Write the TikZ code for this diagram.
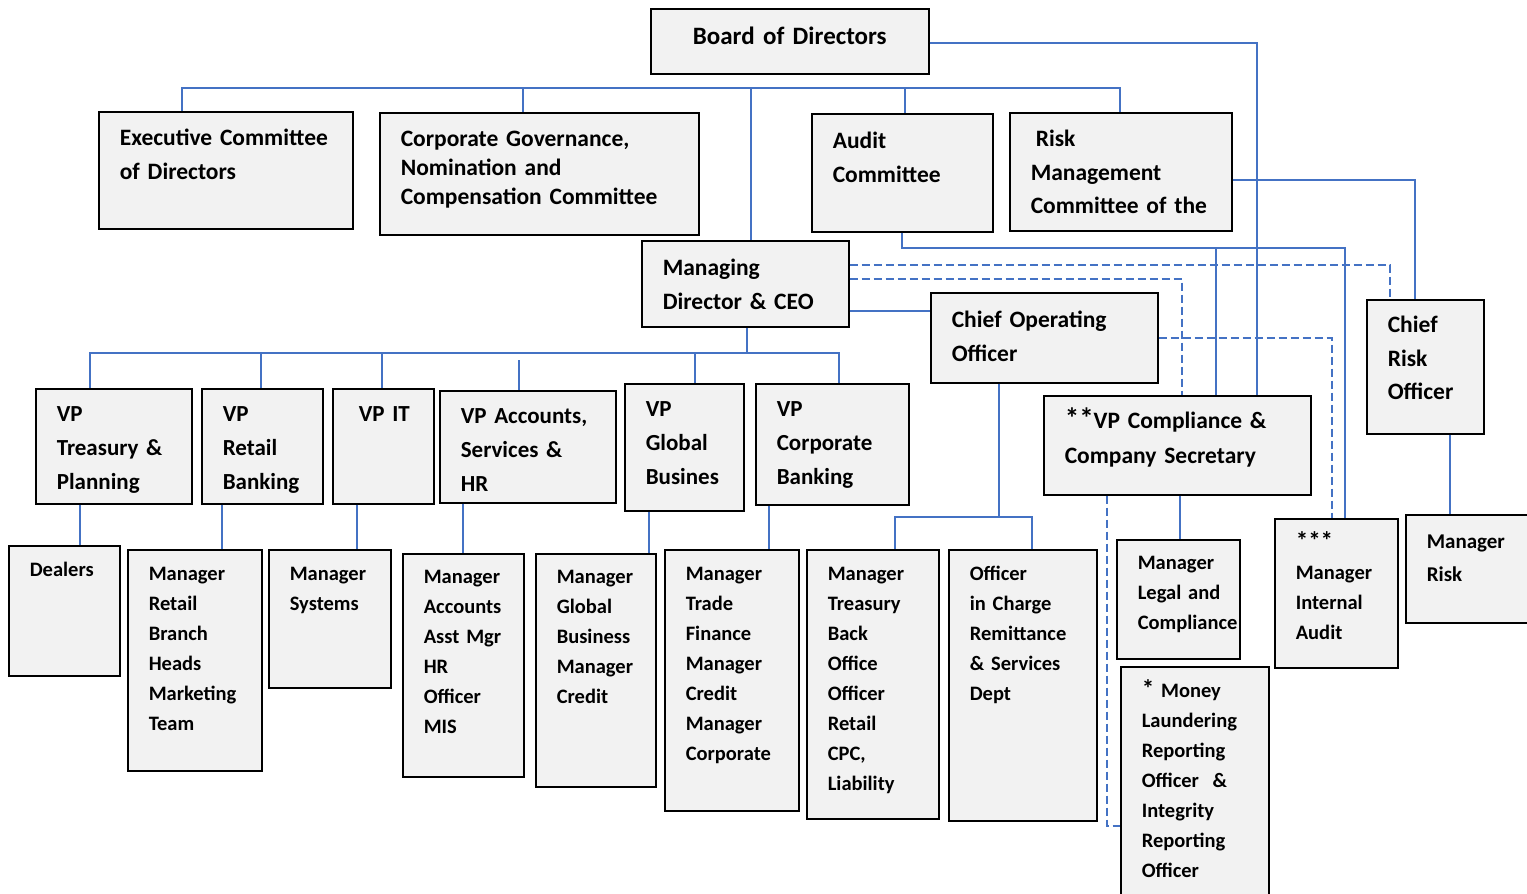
\documentclass[tikz,border=0pt]{standalone}
\usepackage{fontspec}
\setmainfont{Carlito}
\usepackage{tikz}
\usetikzlibrary{positioning}
\hyphenpenalty=10000
\exhyphenpenalty=10000

\definecolor{boxgray}{HTML}{F2F2F2}
\definecolor{linkblue}{HTML}{4472C4}

\newcommand{\starmark}[2]{{\fontsize{#1}{30}\selectfont #2}}

\tikzstyle{box} = [rectangle, draw=black, line width=1.6pt, fill=boxgray, anchor=north west, inner sep=0pt]
\tikzstyle{lbox} = [box, align=left, execute at begin node={\leftskip=21pt}]
\tikzstyle{cbox} = [box, align=center]
\tikzstyle{toplvl} = [lbox, font=\fontsize{23.5}{33.5}\selectfont\bfseries]
\tikzstyle{vplvl} = [lbox, font=\fontsize{23}{34}\selectfont\bfseries]
\tikzstyle{mgrlvl} = [lbox, font=\fontsize{20.5}{30}\selectfont\bfseries]
\tikzstyle{link} = [draw=linkblue, line width=1.2pt]
\tikzstyle{dashlink} = [link, dash pattern=on 8pt off 4pt]
\tikzset{sz/.style n args={3}{text width=#1pt, text height=#3pt, text depth=#2pt-#3pt}}

\begin{document}
\begin{tikzpicture}[x=1pt, y=-1pt]
	\useasboundingbox (0,0) rectangle (1527,894);

	% board and committees
	\node (board) [cbox, font=\fontsize{25}{30}\selectfont\bfseries, sz={278}{65}{36}] at (650,8) {Board of Directors};
	\node (exec) [toplvl, sz={254}{117}{34}] at (98,111) {Executive Committee\\of Directors};
	\node (cgov) [toplvl, font=\fontsize{23.5}{29}\selectfont\bfseries, sz={319}{122}{34}] at (379,112) {Corporate Governance,\\Nomination and\\Compensation Committee};
	\node (audit) [toplvl, sz={181}{118}{35}] at (811,113) {Audit\\Committee};
	\node (rmc) [toplvl, sz={222}{118}{34}] at (1009,112) {\hspace*{5pt}Risk\\Management\\Committee of the};

	% management
	\node (ceo) [toplvl, sz={207}{86}{35}] at (641,240) {Managing\\Director \& CEO};
	\node (coo) [toplvl, sz={227}{90}{35}] at (930,292) {Chief Operating\\Officer};
	\node (cro) [toplvl, sz={117}{134}{33}] at (1366,299) {Chief\\Risk\\Officer};
	\node (vpcs) [toplvl, font=\fontsize{23.5}{35}\selectfont\bfseries, sz={267}{99}{33}] at (1043,395) {\starmark{29}{**}VP Compliance \&\\Company Secretary};

	% vice presidents
	\node (vptp) [vplvl, sz={156}{115}{33}] at (35,388) {VP\\Treasury \&\\Planning};
	\node (vprb) [vplvl, sz={121}{115}{33}] at (201,388) {VP\\Retail\\Banking};
	\node (vpit) [vplvl, execute at begin node={\leftskip=26pt}, sz={101}{115}{33}] at (332,388) {VP IT};
	\node (vpash) [vplvl, sz={176}{112}{33}] at (439,390) {VP Accounts,\\Services \&\\HR};
	\node (vpgb) [vplvl, sz={119}{127}{33}] at (624,383) {VP\\Global\\Busines};
	\node (vpcb) [vplvl, sz={153}{121}{33}] at (755,383) {VP\\Corporate\\Banking};

	% managers and officers
	\node (dealers) [mgrlvl, sz={111}{130}{31}] at (8,545) {Dealers};
	\node (mrb) [mgrlvl, sz={134}{221}{31}] at (127,549) {Manager\\Retail\\Branch\\Heads\\Marketing\\Team};
	\node (msys) [mgrlvl, sz={122}{138}{31}] at (268,549) {Manager\\Systems};
	\node (macc) [mgrlvl, sz={121}{223}{30}] at (402,553) {Manager\\Accounts\\Asst Mgr\\HR\\Officer\\MIS};
	\node (mgb) [mgrlvl, sz={120}{233}{30}] at (535,553) {Manager\\Global\\Business\\Manager\\Credit};
	\node (mtf) [mgrlvl, sz={134}{261}{31}] at (664,549) {Manager\\Trade\\Finance\\Manager\\Credit\\Manager\\Corporate};
	\node (mtbo) [mgrlvl, sz={132}{269}{31}] at (806,549) {Manager\\Treasury\\Back\\Office\\Officer\\Retail\\CPC,\\Liability};
	\node (oic) [mgrlvl, sz={148}{271}{31}] at (948,549) {Officer\\in Charge\\Remittance\\\& Services\\Dept};
	\node (mlc) [mgrlvl, sz={123}{119}{30}] at (1116,539) {Manager\\Legal and\\Compliance};
	\node (mlro) [mgrlvl, sz={148}{240}{31}] at (1120,666) {\starmark{25}{*} Money\\Laundering\\Reporting\\Officer\ \ \&\\Integrity\\Reporting\\Officer};
	\node (mia) [mgrlvl, sz={123}{149}{31}] at (1274,518) {\starmark{25}{***}\\Manager\\Internal\\Audit};
	\node (mrisk) [mgrlvl, font=\fontsize{21}{33}\selectfont\bfseries, sz={125}{108}{34}] at (1405,514) {Manager\\Risk};

	% Draw edges
	\coordinate (bus1) at (0,88);
	\coordinate (bus2) at (0,353);
	\coordinate (bus3) at (0,517);
	\coordinate (au) at (1345,248);
	\draw [link] (exec.north -| 182,0) -- (bus1 -| 182,0) -- (bus1 -| 1120,0) -- (rmc.north -| 1120,0);
	\draw [link] (bus1 -| 523,0) -- (cgov.north -| 523,0);
	\draw [link] (bus1 -| 751,0) -- (ceo.north -| 751,0);
	\draw [link] (bus1 -| 905,0) -- (audit.north -| 905,0);
	\draw [link] (board.east |- 0,43) -| (vpcs.north -| 1257,0);
	\draw [link] (rmc.east |- 0,180) -| (cro.north -| 1415,0);
	\draw [link] (audit.south -| 902,0) |- (au) -- (mia.north -| au);
	\draw [link] (au -| 1216,0) -- (vpcs.north -| 1216,0);

	\draw [link] (ceo.east |- 0,311) -- (coo.west |- 0,311);
	\draw [dashlink] (ceo.east |- 0,265) -| (cro.north -| 1390,0);
	\draw [dashlink] (ceo.east |- 0,279) -| (vpcs.north -| 1182,0);
	\draw [link] (ceo.south -| 747,0) -- (bus2 -| 747,0);
	\draw [link] (vptp.north -| 90,0) |- (bus2 -| 839,0) -- (vpcb.north -| 839,0);
	\draw [link] (bus2 -| 261,0) -- (vprb.north -| 261,0);
	\draw [link] (bus2 -| 382,0) -- (vpit.north -| 382,0);
	\draw [link] ([yshift=-7pt]bus2 -| 519,0) -- (vpash.north -| 519,0);
	\draw [link] (bus2 -| 695,0) -- (vpgb.north -| 695,0);

	\draw [dashlink] (coo.east |- 0,338) -| (mia.north -| 1332,0);
	\draw [link] (coo.south -| 999,0) -- (bus3 -| 999,0);
	\draw [link] (mtbo.north -| 895,0) |- (bus3 -| 1032,0) -- (oic.north -| 1032,0);
	\draw [link] (vpcs.south -| 1180,0) -- (mlc.north -| 1180,0);
	\draw [dashlink] (vpcs.south -| 1107,0) |- (mlro.west |- 0,826);
	\draw [link] (cro.south -| 1450,0) -- (mrisk.north -| 1450,0);

	\draw [link] (vptp.south -| 80,0) -- (dealers.north -| 80,0);
	\draw [link] (vprb.south -| 222,0) -- (mrb.north -| 222,0);
	\draw [link] (vpit.south -| 357,0) -- (msys.north -| 357,0);
	\draw [link] (vpash.south -| 463,0) -- (macc.north -| 463,0);
	\draw [link] (vpgb.south -| 649,0) -- (mgb.north -| 649,0);
	\draw [link] (vpcb.south -| 769,0) -- (mtf.north -| 769,0);
\end{tikzpicture}
\end{document}
